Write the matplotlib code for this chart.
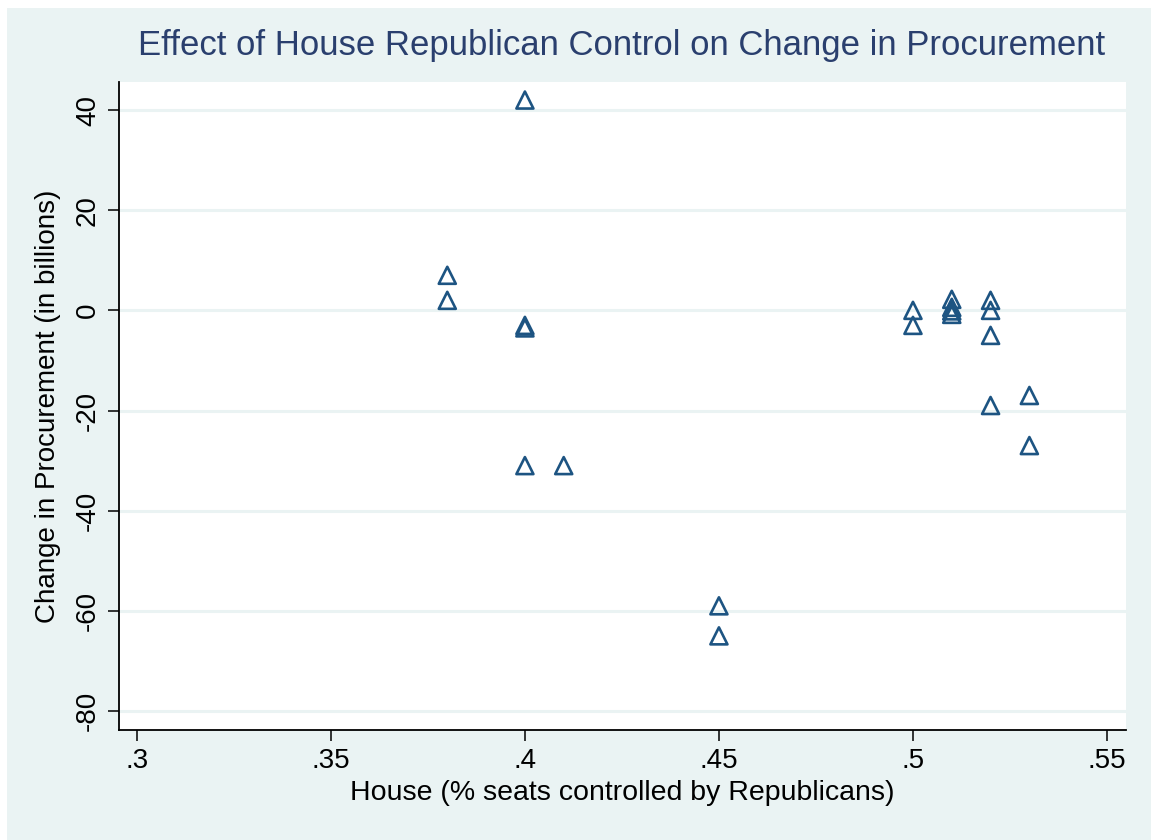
import matplotlib
matplotlib.use("Agg")
import matplotlib.pyplot as plt
from matplotlib.patches import Rectangle

plt.rcParams['font.family'] = ['Liberation Sans', 'DejaVu Sans']

# Share of House seats held by Republicans and the change in procurement
house_share = [0.40, 0.38, 0.38, 0.40, 0.40, 0.40, 0.41, 0.45, 0.45,
               0.50, 0.50, 0.51, 0.51, 0.51, 0.51,
               0.52, 0.52, 0.52, 0.52, 0.53, 0.53]
procurement_change = [42, 7, 2, -3, -3.5, -31, -31, -59, -65,
                      0, -3, 2.2, 0.6, -0.1, -0.8,
                      2, 0, -5, -19, -17, -27]

x_ticks = [0.30, 0.35, 0.40, 0.45, 0.50, 0.55]
x_tick_labels = ['.3', '.35', '.4', '.45', '.5', '.55']
y_ticks = [-80, -60, -40, -20, 0, 20, 40]
y_tick_labels = ['-80', '-60', '-40', '-20', '0', '20', '40']

W, H = 1151, 840
BG = '#EAF3F3'
NAVY = '#1D5482'

fig = plt.figure(figsize=(W / 100, H / 100), dpi=100)
fig.patch.set_facecolor('white')
fig.patches.append(Rectangle((7 / W, 0), 1 - 7 / W, 1 - 8 / H,
                             transform=fig.transFigure, facecolor=BG,
                             edgecolor='none', zorder=-10))

left, right, top, bottom = 119, 1126, 82, 730
ax = fig.add_axes([left / W, (H - bottom) / H, (right - left) / W, (bottom - top) / H])
ax.set_facecolor('white')

ax.scatter(house_share, procurement_change, marker='^', s=150,
           facecolors='none', edgecolors=NAVY, linewidths=1.9, zorder=3)

ax.set_xlim(0.2954, 0.5549)
ax.set_ylim(-83.8, 45.6)

ax.set_xticks(x_ticks)
ax.set_xticklabels(x_tick_labels)
ax.set_yticks(y_ticks)
ax.set_yticklabels(y_tick_labels, rotation=90, va='center')

ax.yaxis.grid(True, color=BG, linewidth=2.2, zorder=0)
ax.xaxis.grid(False)
ax.set_axisbelow(True)

for side in ('top', 'right'):
    ax.spines[side].set_visible(False)
for side in ('left', 'bottom'):
    ax.spines[side].set_color('black')
    ax.spines[side].set_linewidth(1.3)

ax.tick_params(axis='both', direction='out', length=8, width=1.1,
               labelsize=20, colors='black', pad=5)

ax.set_xlabel('House (% seats controlled by Republicans)', fontsize=20.5, labelpad=4)
ax.set_ylabel('Change in Procurement (in billions)', fontsize=20, labelpad=10)

fig.text(622 / W, 1 - 46 / H,
         'Effect of House Republican Control on Change in Procurement',
         ha='center', va='center', fontsize=25, color='#2A3F6E')

fig.savefig('out.png', dpi=100, facecolor=fig.get_facecolor())
